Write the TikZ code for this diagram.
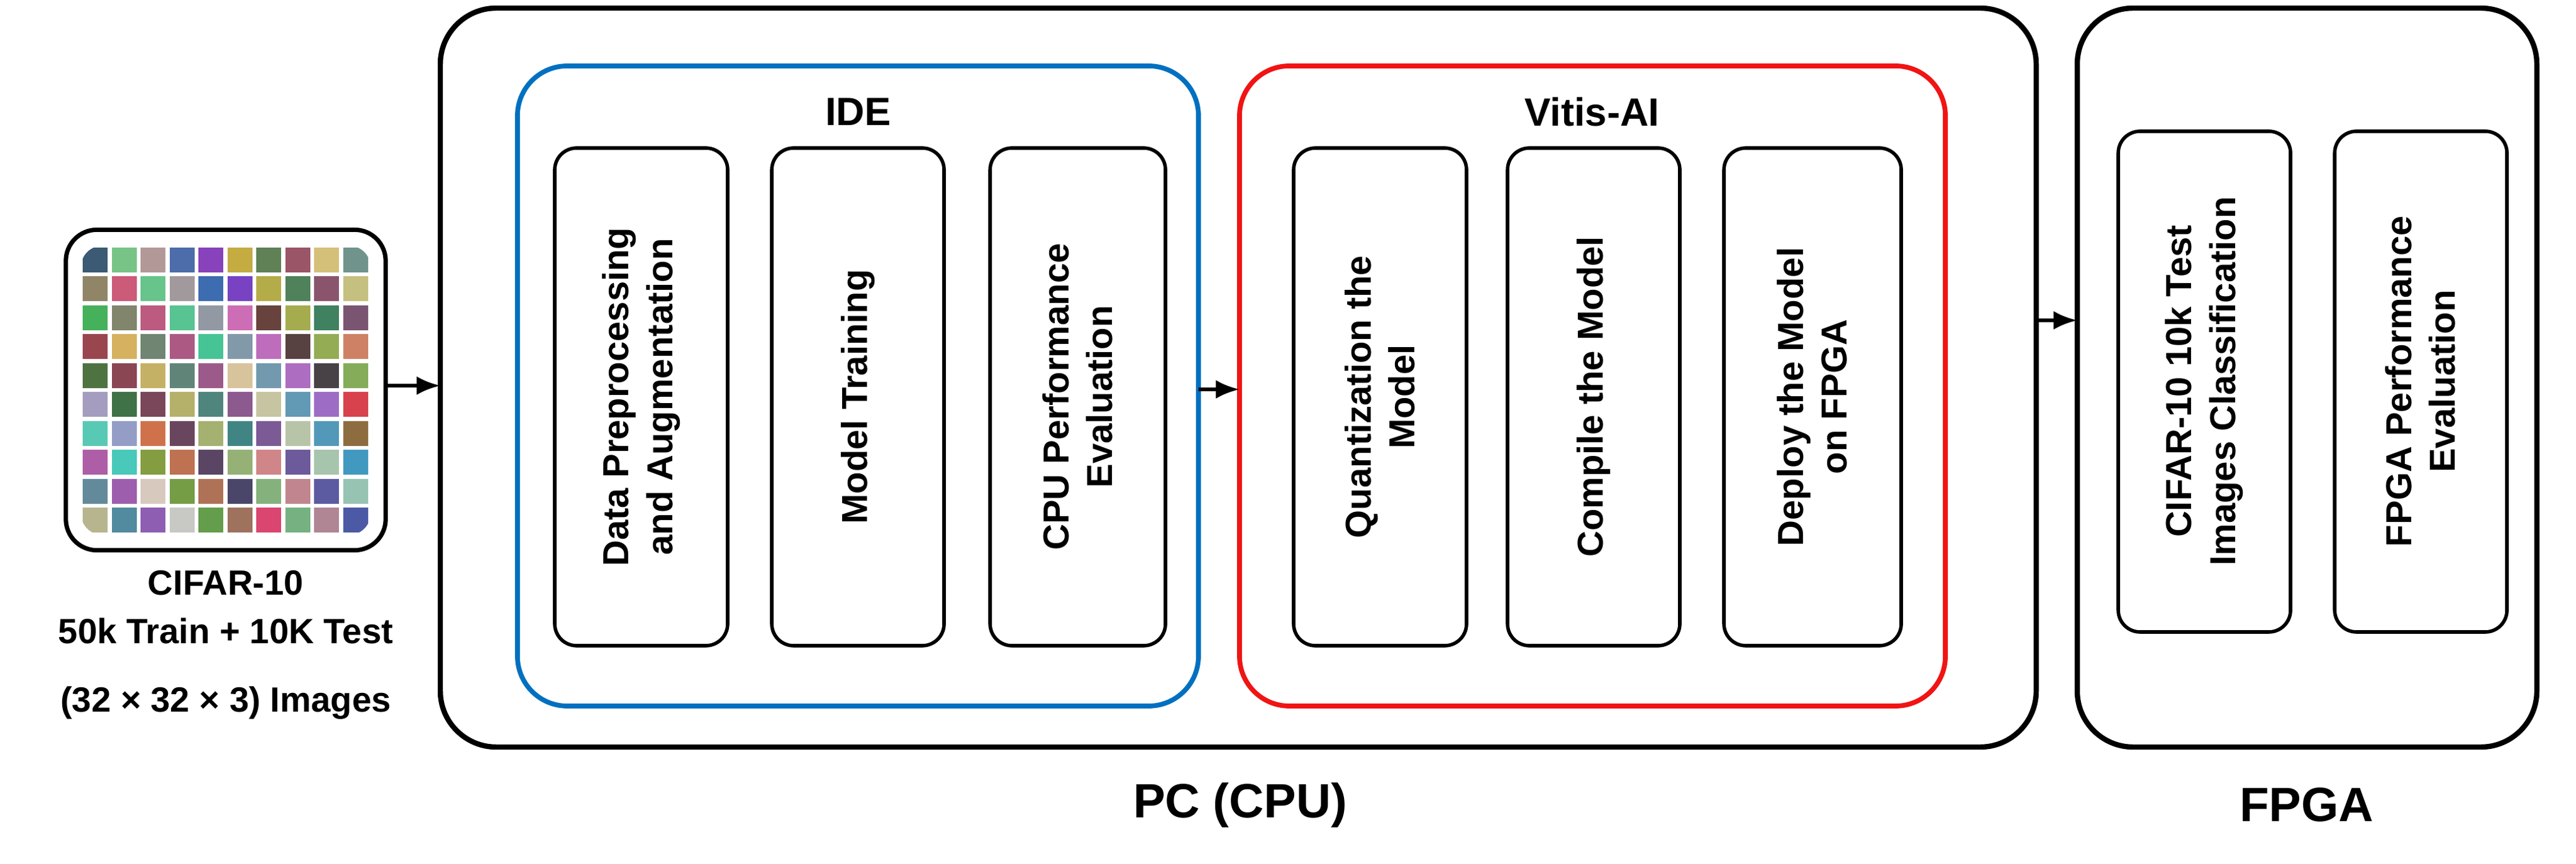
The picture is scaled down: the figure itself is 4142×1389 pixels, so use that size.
\documentclass[tikz,border=0pt]{standalone}
\usepackage{fontspec}
\setmainfont{Liberation Sans}
\usetikzlibrary{arrows.meta}
\begin{document}
\begin{tikzpicture}[x=0.01cm,y=-0.01cm,
  outer/.style={draw=black,line width=2.4pt,rounded corners=0.9cm},
  frame/.style={line width=2.2pt,rounded corners=0.8cm},
  stepbox/.style={draw=black,line width=1.6pt,rounded corners=0.35cm},
  lab/.style={font=\bfseries\fontsize{16.5}{20}\selectfont,align=center,rotate=90},
  captxt/.style={font=\bfseries\fontsize{16}{19}\selectfont},
  ttl/.style={font=\bfseries\fontsize{18}{22}\selectfont},
  big/.style={font=\bfseries\fontsize{22}{26}\selectfont},
  arr/.style={-{Latex[length=0.38cm,width=0.3cm]},line width=1.6pt}]
\useasboundingbox (0,0) rectangle (4142,1389);
% thumbnail
\node[draw,line width=2pt,rounded corners=0.5cm,minimum width=5.14cm,minimum height=5.15cm,inner sep=0] (img) at (363,627) {};
\begin{scope}
\clip[rounded corners=0.35cm] (130,395) rectangle (596,860);
\foreach \i in {0,...,9}{\foreach \j in {0,...,9}{
  \pgfmathtruncatemacro{\r}{60+1.6*mod(\i*37+\j*53,100)}
  \pgfmathtruncatemacro{\g}{60+1.5*mod(\i*71+\j*29+20,100)}
  \pgfmathtruncatemacro{\b}{60+1.4*mod(\i*13+\j*91+40,100)}
  \definecolor{cc}{RGB}{\r,\g,\b}
  \fill[cc] (130+\i*46.5+3,395+\j*46.5+3) rectangle ++(40,40);
}}
\end{scope}
\node[captxt] (t1) at (363,937) {CIFAR-10};
\node[captxt] (t2) at (363,1014) {50k Train + 10K Test};
\node[captxt] (t3) at (363,1130) {(32 × 32 × 3) Images};
% PC
\draw[outer] (708,13) rectangle (3274,1201);
\coordinate (pcin) at (708,620);
\node[big] (pc) at (1994,1294) {PC (CPU)};
% IDE
\draw[frame,draw={rgb,255:red,0;green,112;blue,192}] (832,106) rectangle (1927,1135);
\coordinate (idein) at (1927,626);
\node[ttl] (ide) at (1380,180) {IDE};
\draw[stepbox] (892,238) rectangle (1170,1038); \node[lab] (s1) at (1031,638) {Data Preprocessing\\and Augmentation};
\draw[stepbox] (1241,238) rectangle (1518,1038); \node[lab] (s2) at (1380,638) {Model Training};
\draw[stepbox] (1592,238) rectangle (1874,1038); \node[lab] (s3) at (1733,638) {CPU Performance\\Evaluation};
% Vitis
\draw[frame,draw={rgb,255:red,240;green,20;blue,20}] (1993,106) rectangle (3128,1135);
\coordinate (vin) at (1993,626);
\node[ttl] (vit) at (2560,180) {Vitis-AI};
\draw[stepbox] (2080,238) rectangle (2358,1038); \node[lab] (s4) at (2219,638) {Quantization the\\Model};
\draw[stepbox] (2424,238) rectangle (2701,1038); \node[lab] (s5) at (2562,638) {Compile the Model};
\draw[stepbox] (2772,238) rectangle (3057,1038); \node[lab] (s6) at (2914,638) {Deploy the Model\\on FPGA};
% FPGA
\draw[outer] (3340,13) rectangle (4079,1201);
\node[big] (fp) at (3709,1294) {FPGA};
\draw[stepbox] (3406,211) rectangle (3683,1016); \node[lab] (s7) at (3544,613) {CIFAR-10 10k Test\\Images Classification};
\draw[stepbox] (3754,211) rectangle (4031,1016); \node[lab] (s8) at (3892,613) {FPGA Performance\\Evaluation};
% arrows
\coordinate (imgr) at (620,620);
\draw[arr] (imgr) -- (pcin);
\draw[arr] (idein) -- (vin);
\coordinate (pcout) at (3274,515); \coordinate (fpin) at (3340,515);
\draw[arr] (pcout) -- (fpin);
\end{tikzpicture}
\end{document}
